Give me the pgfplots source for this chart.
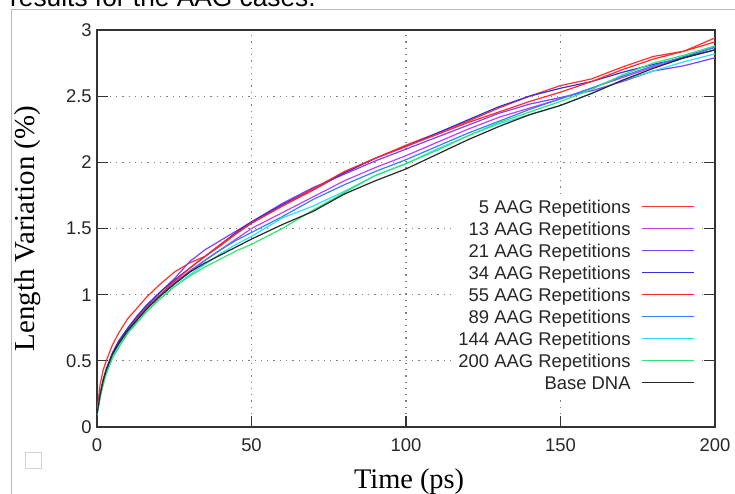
\documentclass[border=0pt]{standalone}
\usepackage{fontspec}
\setmainfont{Liberation Sans}
\newfontfamily\timesfont{Liberation Serif}
\usepackage{pgfplots}
\pgfplotsset{compat=1.18}

\definecolor{cA}{RGB}{255,48,48}
\definecolor{cB}{RGB}{192,64,240}
\definecolor{cC}{RGB}{128,64,255}
\definecolor{cD}{RGB}{48,48,224}
\definecolor{cE}{RGB}{255,40,40}
\definecolor{cF}{RGB}{48,128,255}
\definecolor{cG}{RGB}{48,224,240}
\definecolor{cH}{RGB}{48,230,112}
\definecolor{cI}{RGB}{40,40,40}

\begin{document}
\begin{tikzpicture}
\path[use as bounding box] (0,0) rectangle (735bp,494bp);
% screenshot remnants
\draw[gray!55, line width=1bp] (11.7bp,0) -- (11.7bp,484.7bp) -- (735bp,484.7bp);
\node[anchor=base west, inner sep=0pt, font=\fontsize{26.4}{30}\selectfont] at (10bp,487.3bp) {results for the AAG cases.};
\draw[gray!35, line width=0.8bp] (25bp,26bp) rectangle (41bp,42bp);

\begin{axis}[
  at={(97bp,67bp)}, anchor=south west,
  scale only axis, width=618bp, height=397bp,
  xmin=0, xmax=200, ymin=0, ymax=3,
  xtick={0,50,...,200}, ytick={0,0.5,...,3},
  xtick pos=bottom, ytick pos=both,
  tick align=inside, major tick length=11bp,
  tick style={black!80, line width=1.2bp},
  axis line style={black!80, line width=1.6bp},
  grid=major,
  grid style={black!50, line width=1.2bp, dash pattern=on 1.3bp off 5bp},
  /pgf/number format/assume math mode=true,
  tick label style={font=\fontsize{18.5}{22}\selectfont, text=black!85},
  xticklabel style={yshift=-8.5bp},
  yticklabel style={xshift=-1.8bp},
  xlabel={Time (ps)},
  ylabel={Length Variation (\%)},
  every axis x label/.style={at={(axis description cs:0.505,-0.1537)}, anchor=base,
    font=\timesfont\fontsize{28.5}{32}\selectfont},
  every axis y label/.style={at={(axis description cs:-0.1019,0.5)}, rotate=90, anchor=base,
    font=\timesfont\fontsize{29}{32}\selectfont},
  legend cell align=right, legend plot pos=right,
  legend image code/.code={\draw[#1] (0bp,0bp) -- (52bp,0bp);},
  legend style={at={(axis description cs:0.9709,0.5877)}, anchor=north east,
    fill=white, draw=none, inner sep=2bp, column sep=11bp, row sep=0bp,
    font=\fontsize{18.5}{22}\selectfont, text=black!85,
    nodes={inner xsep=0pt, inner ysep=0.7bp, text height=16.6bp, text depth=4bp}},
  every axis plot/.append style={line width=1.2bp},
]
% 5 AAG
\addplot[cA] coordinates {(0,0.12) (1,0.32) (2,0.43) (3,0.50) (5,0.62) (7,0.71) (10,0.82) (13,0.90) (16,0.98) (20,1.07) (25,1.17) (30,1.24) (35,1.29) (40,1.37) (45,1.46) (50,1.54) (60,1.67) (70,1.79) (80,1.92) (90,2.03) (100,2.13) (110,2.22) (120,2.31) (130,2.41) (140,2.50) (150,2.58) (160,2.63) (170,2.72) (180,2.80) (190,2.84) (200,2.94)};
% 13 AAG
\addplot[cB] coordinates {(0,0.10) (1,0.24) (2,0.34) (3,0.42) (5,0.54) (7,0.63) (10,0.73) (13,0.82) (16,0.90) (20,0.99) (25,1.09) (30,1.18) (35,1.26) (40,1.34) (45,1.42) (50,1.50) (60,1.62) (70,1.74) (80,1.86) (90,1.96) (100,2.05) (110,2.15) (120,2.25) (130,2.34) (140,2.41) (150,2.48) (160,2.56) (170,2.64) (180,2.72) (190,2.79) (200,2.87)};
% 21 AAG
\addplot[cC] coordinates {(0,0.10) (1,0.24) (2,0.35) (3,0.43) (5,0.55) (7,0.64) (10,0.74) (13,0.83) (16,0.91) (20,1.01) (25,1.12) (30,1.25) (35,1.34) (40,1.41) (45,1.48) (50,1.55) (60,1.69) (70,1.81) (80,1.91) (90,2.01) (100,2.10) (110,2.19) (120,2.28) (130,2.37) (140,2.44) (150,2.49) (160,2.54) (170,2.61) (180,2.69) (190,2.73) (200,2.79)};
% 34 AAG
\addplot[cD] coordinates {(0,0.10) (1,0.25) (2,0.36) (3,0.44) (5,0.56) (7,0.65) (10,0.75) (13,0.84) (16,0.92) (20,1.01) (25,1.11) (30,1.20) (35,1.29) (40,1.38) (45,1.47) (50,1.55) (60,1.68) (70,1.80) (80,1.92) (90,2.03) (100,2.12) (110,2.22) (120,2.32) (130,2.42) (140,2.50) (150,2.56) (160,2.61) (170,2.68) (180,2.74) (190,2.79) (200,2.85)};
% 55 AAG
\addplot[cE] coordinates {(0,0.10) (1,0.24) (2,0.34) (3,0.42) (5,0.54) (7,0.63) (10,0.73) (13,0.82) (16,0.90) (20,0.99) (25,1.10) (30,1.20) (35,1.29) (40,1.38) (45,1.46) (50,1.54) (60,1.67) (70,1.80) (80,1.93) (90,2.03) (100,2.12) (110,2.21) (120,2.30) (130,2.38) (140,2.46) (150,2.53) (160,2.61) (170,2.70) (180,2.78) (190,2.84) (200,2.91)};
% 89 AAG
\addplot[cF] coordinates {(0,0.10) (1,0.24) (2,0.34) (3,0.42) (5,0.54) (7,0.62) (10,0.72) (13,0.81) (16,0.89) (20,0.98) (25,1.08) (30,1.17) (35,1.26) (40,1.34) (45,1.41) (50,1.47) (60,1.59) (70,1.72) (80,1.83) (90,1.93) (100,2.02) (110,2.12) (120,2.22) (130,2.31) (140,2.40) (150,2.48) (160,2.56) (170,2.65) (180,2.73) (190,2.80) (200,2.87)};
% 144 AAG
\addplot[cG] coordinates {(0,0.10) (1,0.23) (2,0.33) (3,0.41) (5,0.53) (7,0.61) (10,0.71) (13,0.79) (16,0.87) (20,0.96) (25,1.06) (30,1.15) (35,1.23) (40,1.31) (45,1.38) (50,1.44) (60,1.58) (70,1.67) (80,1.78) (90,1.90) (100,1.99) (110,2.10) (120,2.20) (130,2.29) (140,2.36) (150,2.43) (160,2.52) (170,2.62) (180,2.69) (190,2.76) (200,2.82)};
% 200 AAG
\addplot[cH] coordinates {(0,0.09) (1,0.22) (2,0.32) (3,0.40) (5,0.52) (7,0.60) (10,0.71) (13,0.79) (16,0.87) (20,0.96) (25,1.06) (30,1.14) (35,1.21) (40,1.27) (45,1.33) (50,1.38) (60,1.50) (70,1.64) (80,1.77) (90,1.90) (100,1.99) (110,2.09) (120,2.20) (130,2.30) (140,2.38) (150,2.46) (160,2.55) (170,2.66) (180,2.75) (190,2.81) (200,2.88)};
% base DNA
\addplot[cI] coordinates {(0,0.10) (1,0.24) (2,0.35) (3,0.43) (5,0.55) (7,0.63) (10,0.73) (13,0.81) (16,0.89) (20,0.98) (25,1.08) (30,1.17) (35,1.24) (40,1.30) (45,1.36) (50,1.42) (60,1.53) (70,1.63) (80,1.76) (90,1.86) (100,1.95) (110,2.06) (120,2.17) (130,2.27) (140,2.36) (150,2.43) (160,2.52) (170,2.62) (180,2.71) (190,2.79) (200,2.85)};
\legend{5 AAG Repetitions, 13 AAG Repetitions, 21 AAG Repetitions, 34 AAG Repetitions,
  55 AAG Repetitions, 89 AAG Repetitions, 144 AAG Repetitions, 200 AAG Repetitions, Base DNA}
\end{axis}
\end{tikzpicture}
\end{document}
